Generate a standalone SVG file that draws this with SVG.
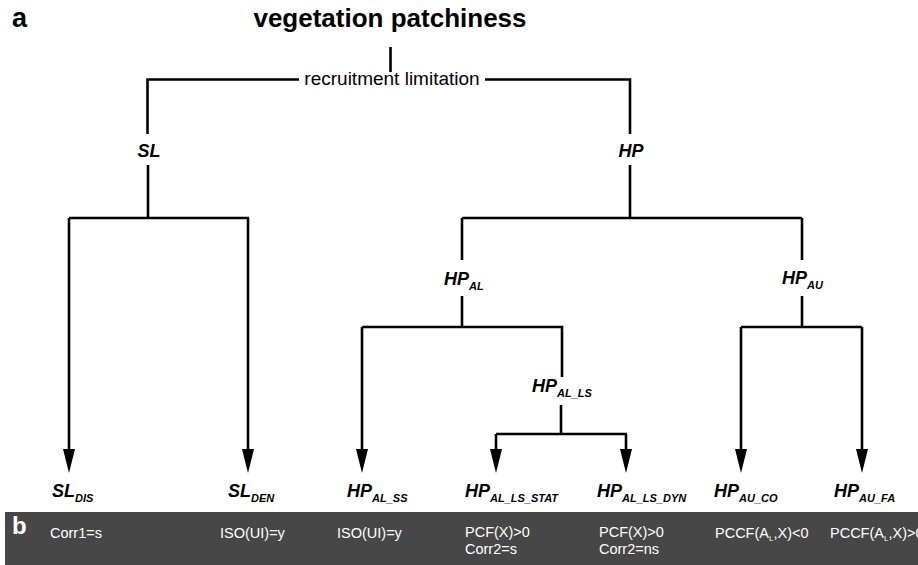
<svg xmlns="http://www.w3.org/2000/svg" width="918" height="565" viewBox="0 0 918 565">
<defs>
<style>
.ln{fill:none;stroke:#000;stroke-width:2.6;stroke-linecap:butt;stroke-linejoin:miter}
.nd{font-family:"Liberation Sans",Arial,sans-serif;font-weight:bold;font-style:italic;font-size:18px;fill:#000}
.sb{font-size:11px}
.bt{font-family:"Liberation Sans",Arial,sans-serif;font-size:14.5px;fill:#fff}
</style>
<marker id="ah" markerUnits="userSpaceOnUse" viewBox="0 0 24 12" refX="6" refY="6" markerWidth="24" markerHeight="12" orient="auto">
<path d="M0,0 L24,6 L0,12 Z" fill="#000"/>
</marker>
</defs>
<rect width="918" height="565" fill="#fff"/>
<text x="12" y="27" font-family="Liberation Sans,Arial,sans-serif" font-weight="bold" font-size="27" fill="#000">a</text>
<g id="title"><text x="390" y="27" text-anchor="middle" font-family="Liberation Sans,Arial,sans-serif" font-weight="bold" font-size="26" fill="#000">vegetation patchiness</text></g>
<g id="recruit"><text x="392" y="85" text-anchor="middle" font-family="Liberation Sans,Arial,sans-serif" font-size="19" fill="#000">recruitment limitation</text></g>
<g id="connectors">
<path class="ln" d="M390.5,47 V72"/>
<path class="ln" d="M299,79.5 H147.5 V134"/>
<path class="ln" d="M485,79.5 H630 V134"/>
<path class="ln" d="M148,165 V218"/>
<path class="ln" d="M630,165 V218"/>
<path class="ln" d="M69,218 H249"/>
<path class="ln" d="M69,218 V455" marker-end="url(#ah)"/>
<path class="ln" d="M248,218 V455" marker-end="url(#ah)"/>
<path class="ln" d="M462,218 H802"/>
<path class="ln" d="M462,218 V260"/>
<path class="ln" d="M802,218 V260"/>
<path class="ln" d="M462,296 V327"/>
<path class="ln" d="M802,296 V327"/>
<path class="ln" d="M362,327 H562 V377"/>
<path class="ln" d="M362,327 V455" marker-end="url(#ah)"/>
<path class="ln" d="M741,327 H862"/>
<path class="ln" d="M741,327 V455" marker-end="url(#ah)"/>
<path class="ln" d="M862,327 V455" marker-end="url(#ah)"/>
<path class="ln" d="M561,405 V434"/>
<path class="ln" d="M496,434 H627"/>
<path class="ln" d="M496,434 V455" marker-end="url(#ah)"/>
<path class="ln" d="M626,434 V455" marker-end="url(#ah)"/>
</g>
<g id="SL"><text class="nd" x="149" y="157" text-anchor="middle">SL</text></g>
<g id="HP"><text class="nd" x="631" y="157" text-anchor="middle">HP</text></g>
<g id="HP_AL"><text class="nd" x="444" y="285">HP<tspan class="sb" dy="5">AL</tspan></text></g>
<g id="HP_AU"><text class="nd" x="782" y="284">HP<tspan class="sb" dy="5">AU</tspan></text></g>
<g id="HP_AL_LS"><text class="nd" x="532" y="392">HP<tspan class="sb" dy="5">AL_LS</tspan></text></g>
<g id="SL_DIS"><text class="nd" x="52" y="497">SL<tspan class="sb" dy="5">DIS</tspan></text></g>
<g id="SL_DEN"><text class="nd" x="228" y="497">SL<tspan class="sb" dy="5">DEN</tspan></text></g>
<g id="HP_AL_SS"><text class="nd" x="347" y="497">HP<tspan class="sb" dy="5">AL_SS</tspan></text></g>
<g id="HP_AL_LS_STAT"><text class="nd" x="465" y="497">HP<tspan class="sb" dy="5">AL_LS_STAT</tspan></text></g>
<g id="HP_AL_LS_DYN"><text class="nd" x="597" y="497">HP<tspan class="sb" dy="5">AL_LS_DYN</tspan></text></g>
<g id="HP_AU_CO"><text class="nd" x="714" y="497">HP<tspan class="sb" dy="5">AU_CO</tspan></text></g>
<g id="HP_AU_FA"><text class="nd" x="834" y="497">HP<tspan class="sb" dy="5">AU_FA</tspan></text></g>
<g id="panel-b">
<rect x="5" y="512" width="913" height="53" fill="#474747"/>
<text x="12" y="534" font-family="Liberation Sans,Arial,sans-serif" font-weight="bold" font-size="24" fill="#fff">b</text>
<text class="bt" x="50" y="538">Corr1=s</text>
<text class="bt" x="220" y="538">ISO(UI)=y</text>
<text class="bt" x="337" y="538">ISO(UI)=y</text>
<text class="bt" x="465" y="537">PCF(X)&gt;0</text>
<text class="bt" x="465" y="554">Corr2=s</text>
<text class="bt" x="599" y="537">PCF(X)&gt;0</text>
<text class="bt" x="599" y="554">Corr2=ns</text>
<text class="bt" x="715" y="538">PCCF(A<tspan font-size="8" dy="3">L</tspan><tspan dy="-3">,X)&lt;0</tspan></text>
<text class="bt" x="830" y="538">PCCF(A<tspan font-size="8" dy="3">L</tspan><tspan dy="-3">,X)&gt;0</tspan></text>
</g>
</svg>
